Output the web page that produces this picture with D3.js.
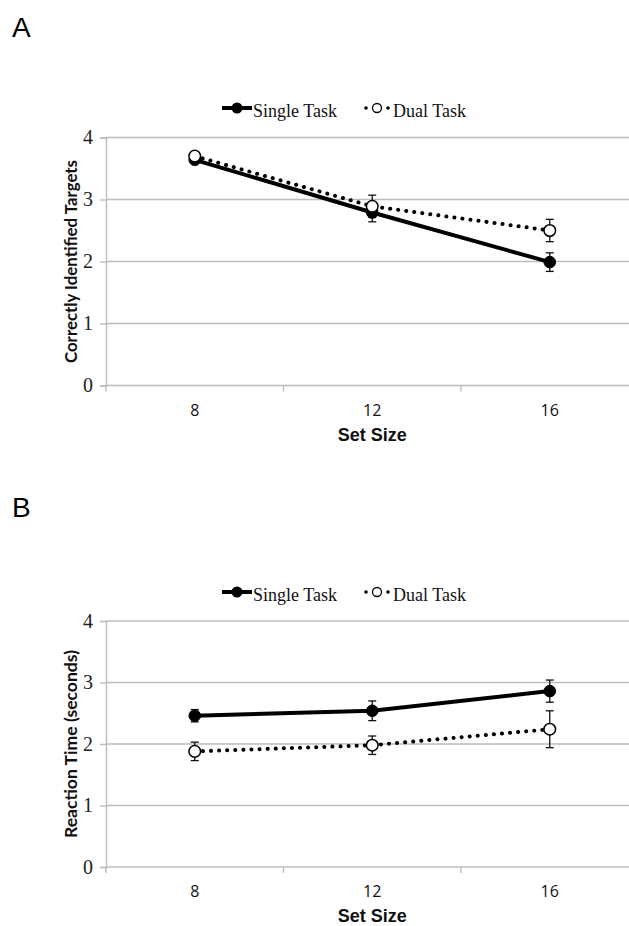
<!DOCTYPE html>
<html>
<head>
<meta charset="utf-8">
<script src="https://cdn.jsdelivr.net/npm/d3@7"></script>
<style>
  html, body { margin: 0; padding: 0; background: #fff; }
  svg { display: block; overflow: hidden; }
</style>
</head>
<body>
<svg id="chart" width="629" height="926"></svg>
<script>
// ---------------- DATA ----------------
const setSizes = ["8", "12", "16"];
const yTicks = [0, 1, 2, 3, 4];
const seriesNames = ["Single Task", "Dual Task"];

// Panel A: correctly identified targets
const accSingle    = [3.64, 2.79, 1.99];
const accSingleErr = [0.05, 0.15, 0.15];
const accDual      = [3.70, 2.89, 2.50];
const accDualErr   = [0.05, 0.18, 0.18];

// Panel B: reaction time (seconds)
const rtSingle    = [2.46, 2.54, 2.86];
const rtSingleErr = [0.10, 0.16, 0.18];
const rtDual      = [1.88, 1.98, 2.24];
const rtDualErr   = [0.15, 0.15, 0.30];

// ---------------- LAYOUT ----------------
const svg = d3.select("#chart");
const GRID = "#bdbdbd";
const SERIF = "'Liberation Serif', 'Times New Roman', serif";
const SANS = "'Liberation Sans', Arial, sans-serif";

const panels = [
  { label: "A", labelY: 37, legendY: 108, top: 137.5, bottom: 385.5,
    yTitle: "Correctly Identified Targets", yTitleLen: 203,
    single: accSingle, singleErr: accSingleErr, dual: accDual, dualErr: accDualErr },
  { label: "B", labelY: 517, legendY: 592, top: 621, bottom: 867,
    yTitle: "Reaction Time (seconds)", yTitleLen: 188,
    single: rtSingle, singleErr: rtSingleErr, dual: rtDual, dualErr: rtDualErr }
];

const xLeft = 106, xRight = 638.5;

panels.forEach(p => {
  const g = svg.append("g");

  const x = d3.scaleBand().domain(setSizes).range([xLeft, xRight]);
  const cx = d => x(d) + x.bandwidth() / 2;
  const y = d3.scaleLinear().domain([0, 4]).range([p.bottom, p.top]);

  // panel label
  g.append("text").attr("x", 12).attr("y", p.labelY)
    .attr("font-family", SANS)
    .attr("font-size", 28).attr("fill", "#000").text(p.label);

  // gridlines
  g.selectAll(".grid").data(yTicks.filter(t => t > 0)).enter().append("line")
    .attr("x1", xLeft).attr("x2", xRight)
    .attr("y1", d => y(d)).attr("y2", d => y(d))
    .attr("stroke", GRID).attr("stroke-width", 1.4);

  // y axis
  const yAxis = d3.axisLeft(y).tickValues(yTicks).tickSize(6).tickFormat(d3.format("d"));
  const ya = g.append("g").attr("transform", `translate(${xLeft},0)`).call(yAxis)
    .attr("font-family", SERIF).attr("font-size", 20);
  ya.select(".domain").attr("stroke", GRID).attr("stroke-width", 1.4);
  ya.selectAll(".tick line").attr("stroke", GRID).attr("stroke-width", 1.4);
  ya.selectAll(".tick text")
    .attr("x", -13)
    .style("font-family", SERIF)
    .style("font-size", "20px").attr("fill", "#222");

  // x axis (ticks at band boundaries)
  const xa = g.append("g").attr("transform", `translate(0,${p.bottom})`);
  xa.append("line").attr("x1", xLeft).attr("x2", xRight)
    .attr("stroke", GRID).attr("stroke-width", 1.4);
  const bounds = setSizes.map(d => x(d)).concat([xRight]);
  xa.selectAll(".xt").data(bounds).enter().append("line")
    .attr("x1", d => d).attr("x2", d => d).attr("y1", 0).attr("y2", 6)
    .attr("stroke", GRID).attr("stroke-width", 1.4);
  xa.selectAll(".xl").data(setSizes).enter().append("text")
    .attr("x", d => cx(d)).attr("y", 30)
    .attr("text-anchor", "middle")
    .attr("font-family", "'Open Sans', 'Liberation Sans', sans-serif")
    .attr("font-size", 16).attr("fill", "#111").text(d => d);
  xa.append("text").attr("x", cx("12")).attr("y", 55)
    .attr("text-anchor", "middle")
    .attr("font-family", SANS)
    .attr("font-weight", "bold").attr("font-size", 18).attr("fill", "#111")
    .text("Set Size");

  // y title
  const midY = (p.top + p.bottom) / 2;
  g.append("text")
    .attr("transform", `translate(77,${midY}) rotate(-90)`)
    .attr("text-anchor", "middle")
    .attr("font-family", "Lato, 'Open Sans', sans-serif")
    .attr("font-weight", "bold").attr("font-size", 17).attr("fill", "#111")
    .attr("textLength", p.yTitleLen).attr("lengthAdjust", "spacingAndGlyphs")
    .text(p.yTitle);

  const line = d3.line().x(d => cx(d.k)).y(d => y(d.v));
  const singlePts = setSizes.map((k, i) => ({ k, v: p.single[i], e: p.singleErr[i] }));
  const dualPts = setSizes.map((k, i) => ({ k, v: p.dual[i], e: p.dualErr[i] }));

  function errBars(pts) {
    const eg = g.append("g").attr("stroke", "#111").attr("stroke-width", 1.3);
    pts.forEach(d => {
      const X = cx(d.k);
      eg.append("line").attr("x1", X).attr("x2", X).attr("y1", y(d.v + d.e)).attr("y2", y(d.v - d.e));
      eg.append("line").attr("x1", X - 4).attr("x2", X + 4).attr("y1", y(d.v + d.e)).attr("y2", y(d.v + d.e));
      eg.append("line").attr("x1", X - 4).attr("x2", X + 4).attr("y1", y(d.v - d.e)).attr("y2", y(d.v - d.e));
    });
  }

  // dual (dotted)
  errBars(dualPts);
  g.append("path").datum(dualPts).attr("d", line)
    .attr("fill", "none").attr("stroke", "#000").attr("stroke-width", 4)
    .attr("stroke-linecap", "round").attr("stroke-dasharray", "0.1 8");
  // single (solid)
  errBars(singlePts);
  g.append("path").datum(singlePts).attr("d", line)
    .attr("fill", "none").attr("stroke", "#000").attr("stroke-width", 4);
  g.selectAll(".ms").data(singlePts).enter().append("circle")
    .attr("cx", d => cx(d.k)).attr("cy", d => y(d.v)).attr("r", 5.8)
    .attr("fill", "#000").attr("stroke", "#000").attr("stroke-width", 1);
  g.selectAll(".md").data(dualPts).enter().append("circle")
    .attr("cx", d => cx(d.k)).attr("cy", d => y(d.v)).attr("r", 5.8)
    .attr("fill", "#fff").attr("stroke", "#000").attr("stroke-width", 1.5);

  // legend
  const ly = p.legendY;
  const lg = g.append("g");
  lg.append("line").attr("x1", 222).attr("x2", 252).attr("y1", ly).attr("y2", ly)
    .attr("stroke", "#000").attr("stroke-width", 4);
  lg.append("circle").attr("cx", 237).attr("cy", ly).attr("r", 5.5).attr("fill", "#000");
  lg.append("text").attr("x", 253).attr("y", ly + 9)
    .attr("font-family", SERIF)
    .attr("font-size", 18).attr("fill", "#111").text(seriesNames[0]);
  [366, 388].forEach(dx => {
    lg.append("circle").attr("cx", dx).attr("cy", ly).attr("r", 1.8).attr("fill", "#000");
  });
  lg.append("circle").attr("cx", 377).attr("cy", ly).attr("r", 4.5)
    .attr("fill", "#fff").attr("stroke", "#000").attr("stroke-width", 1.3);
  lg.append("text").attr("x", 393).attr("y", ly + 9)
    .attr("font-family", SERIF)
    .attr("font-size", 18).attr("fill", "#111").text(seriesNames[1]);
});
</script>
</body>
</html>
